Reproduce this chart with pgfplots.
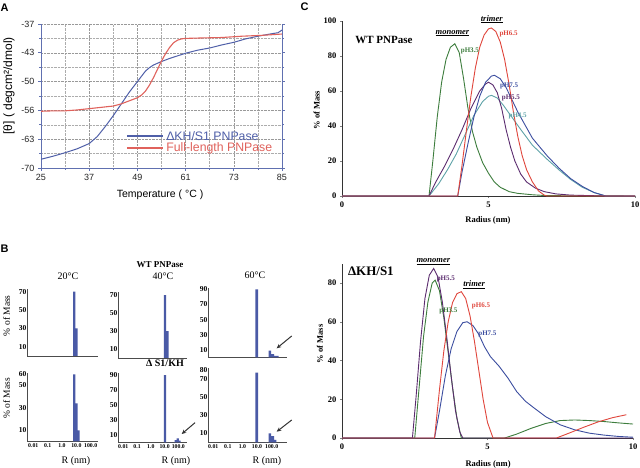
\documentclass[border=0pt]{standalone}
\usepackage{fontspec}
\setmainfont{Liberation Serif}
\newfontfamily\arial{Liberation Sans}
\usepackage{pgfplots}
\pgfplotsset{compat=1.18}
\usetikzlibrary{arrows.meta}
\definecolor{ablue}{HTML}{4F5FA8}
\definecolor{ared}{HTML}{E0625C}
\definecolor{aaxis}{HTML}{6070B0}
\definecolor{barblue}{HTML}{4A5AA6}
\definecolor{cgreen}{HTML}{3D7D3D}
\definecolor{cred}{HTML}{E0463C}
\definecolor{cblue}{HTML}{3C4EA0}
\definecolor{cpurple}{HTML}{5B2C6F}
\definecolor{cteal}{HTML}{5FA3A8}
\pgfplotsset{
  bpanel/.style={scale only axis, anchor=south west, clip=false,
    axis x line*=bottom, axis y line*=left,
    axis line style={-, gray!60!black, line width=0.6pt},
    ymin=0, major tick length=0pt,
    /pgf/number format/assume math mode=true,
    tick label style={font=\bfseries\fontsize{7.5}{8}\selectfont},
    yticklabel style={inner sep=0.8pt},
    xtick={-2,-1,0,1,2}, xticklabels={},
  },
  brow2/.style={xticklabels={0.01,0.1,1.0,10.0,100.0},
    xticklabel style={font=\bfseries\fontsize{5.8}{6}\selectfont, inner sep=1.5pt}},
  cpanel/.style={scale only axis, anchor=south west, clip=false,
    axis x line*=bottom, axis y line*=left,
    axis line style={-, black!80, line width=0.8pt},
    xmin=0, xmax=10, ymin=0,
    xtick={0,5,10}, major tick length=2pt, tick align=outside,
    /pgf/number format/assume math mode=true,
    tick label style={font=\bfseries\fontsize{8.5}{9}\selectfont},
    every axis plot/.append style={line width=0.9pt}},
}
\begin{document}
\begin{tikzpicture}
\useasboundingbox (0,0) rectangle (640pt,468pt);
\fill[white] (0,0) rectangle (640pt,468pt);

% ---------------- Panel A ----------------
\begin{axis}[
  scale only axis, width=241pt, height=144pt, at={(41pt,300pt)}, anchor=south west,
  xmin=25, xmax=85, ymin=-70, ymax=-37,
  axis x line*=bottom, axis y line*=box,
  axis line style={-, aaxis, line width=0.9pt},
  xtick={25,37,49,61,73,85}, xticklabels={25,37,49,61,73,85},
  ytick={-70,-63.4,-56.8,-50.2,-43.6,-37}, yticklabels={-70,-63,-56,-50,-43,-37},
  minor x tick num=1, minor y tick num=1,
  grid=both, major grid style={densely dotted, gray!80}, minor grid style={densely dotted, gray!65},
  tick align=outside, major tick length=3pt, minor tick length=2pt,
  tick style={aaxis, line width=0.6pt},
  tick label style={font=\arial\fontsize{9}{9}\selectfont, text=black!85},
  xlabel={Temperature ( °C )}, ylabel={[θ] ( degcm²/dmol)},
  xlabel style={font=\arial\fontsize{10.5}{11}\selectfont, at={(axis description cs:0.494,-0.183)}, anchor=center},
  ylabel style={font=\arial\fontsize{12}{12}\selectfont, at={(axis description cs:-0.133,0.57)}, anchor=center},
  legend style={at={(0.353,0.271)}, anchor=north west, draw=none, fill=none,
    font=\arial\fontsize{12.3}{12}\selectfont, row sep=-2.5pt, inner sep=0pt},
  legend cell align=left,
  legend image code/.code={\draw[#1, line width=2pt] (0pt,0pt) -- (36pt,0pt);},
]
\addplot[ablue, line width=1pt] coordinates {
(25,-68.0)(28,-67.3)(31,-66.5)(34,-65.6)(37,-64.4)(39,-62.8)(41,-60.5)(43,-58.0)
(45,-55.3)(47,-52.6)(49,-50.2)(50,-49.0)(51,-47.8)(52,-47.0)(53,-46.4)(55,-45.6)
(57,-44.9)(59,-44.3)(61,-43.7)(64,-43.0)(67,-42.5)(70,-41.8)(73,-41.2)(76,-40.4)
(79,-39.8)(82,-39.3)(84,-39.0)(85,-38.4)};
\addlegendentry{\textcolor{ablue}{ΔKH/S1 PNPase}}
\addplot[ared, line width=1.1pt] coordinates {
(25,-57.0)(28,-56.9)(31,-56.9)(34,-56.7)(37,-56.4)(40,-56.1)(43,-55.8)(45,-55.3)
(47,-54.6)(49,-53.9)(50,-53.3)(51,-52.4)(52,-51.0)(53,-49.3)(54,-47.4)(55,-45.5)
(56,-43.8)(57,-42.4)(58,-41.3)(59,-40.7)(60,-40.4)(61,-40.3)(65,-40.2)(70,-40.1)
(75,-39.8)(80,-39.6)(85,-39.3)};
\addlegendentry{\textcolor{ared}{Full-length PNPase}}
\end{axis}

% ---------------- Panel C top ----------------
\begin{axis}[cpanel, width=293pt, height=175pt, at={(342pt,272pt)}, ymax=100,
  ytick={0,20,40,60,80,100},
  xlabel={Radius (nm)}, ylabel={\% of Mass},
  label style={font=\bfseries\fontsize{8.5}{9}\selectfont},
  xlabel style={at={(axis description cs:0.498,-0.137)}, anchor=center},
  ylabel style={at={(axis description cs:-0.086,0.491)}, anchor=center},
]
\addplot[cgreen] coordinates {(0,0)(2.97,0)(3.1,20)(3.25,45)(3.4,65)(3.55,78)(3.7,85)(3.85,87)
(4.0,82)(4.15,67)(4.3,50)(4.45,37)(4.6,28)(4.8,19)(5.0,13)(5.2,8)(5.4,5)(5.7,2.5)(6.0,1.5)
(6.5,0.7)(7,0.2)(10,0)};
\addplot[cteal] coordinates {(0,0)(2.97,0)(3.3,7)(3.6,15)(3.9,24)(4.2,35)(4.5,46)(4.8,54)
(5.0,57)(5.1,57.5)(5.3,56)(5.5,52)(5.8,45)(6.1,38)(6.5,29)(7.0,21)(7.4,15)(7.8,9.5)
(8.2,5)(8.6,2)(9.0,0)(10,0)};
\addplot[cpurple] coordinates {(0,0)(2.97,0)(3.2,8)(3.5,17)(3.8,27)(4.1,38)(4.4,50)(4.7,60)
(4.9,64)(5.0,65)(5.15,63.5)(5.3,59)(5.45,50)(5.6,38)(5.75,28)(5.9,20)(6.1,12.5)(6.3,8)
(6.6,4.5)(6.9,2.5)(7.3,1.2)(7.8,0.5)(9.0,0)(10,0)};
\addplot[cblue] coordinates {(0,0)(3.95,0)(4.1,14)(4.3,30)(4.5,45)(4.7,57)(4.9,65)(5.1,68.5)
(5.2,69)(5.4,67)(5.6,62)(5.8,55)(6.0,48)(6.5,33)(7.0,23)(7.4,16)(7.8,10)(8.2,5.5)(8.6,2)
(9.0,0)(10,0)};
\addplot[cred] coordinates {(0,0)(3.95,0)(4.1,18)(4.25,38)(4.4,57)(4.55,73)(4.7,85)(4.85,92)
(5.0,95.5)(5.1,96)(5.25,94)(5.4,88)(5.55,78)(5.7,64)(5.85,48)(6.0,34)(6.15,23)(6.3,15)
(6.5,8)(6.7,3)(6.9,0.5)(7.0,0)(10,0)};
\node[font=\bfseries\fontsize{11}{12}\selectfont] at (axis cs:1.43,89) {WT PNPase};
\node[font=\bfseries\itshape\fontsize{8.5}{9}\selectfont] at (axis cs:3.77,93) {\underline{monomer}};
\node[font=\bfseries\itshape\fontsize{8.5}{9}\selectfont] at (axis cs:5.11,101) {\underline{trimer}};
\node[anchor=west, inner sep=0pt, text=cgreen, font=\bfseries\fontsize{7}{8}\selectfont] at (axis cs:4.05,83) {pH3.5};
\node[anchor=west, inner sep=0pt, text=cred, font=\bfseries\fontsize{7}{8}\selectfont] at (axis cs:5.37,92.6) {pH6.5};
\node[anchor=west, inner sep=0pt, text=cblue, font=\bfseries\fontsize{7}{8}\selectfont] at (axis cs:5.39,63) {pH7.5};
\node[anchor=west, inner sep=0pt, text=cpurple, font=\bfseries\fontsize{7}{8}\selectfont] at (axis cs:5.45,55.8) {pH5.5};
\node[anchor=west, inner sep=0pt, text=cteal, font=\bfseries\fontsize{7}{8}\selectfont] at (axis cs:5.68,45.9) {pH4.5};
\end{axis}

% ---------------- Panel C bottom ----------------
\begin{axis}[cpanel, width=291pt, height=174.4pt, at={(342pt,30pt)}, ymax=90,
  ytick={0,20,40,60,80},
  xlabel={Radius (nm)}, ylabel={\% of Mass},
  label style={font=\bfseries\fontsize{8.5}{9}\selectfont},
  xlabel style={at={(axis description cs:0.502,-0.15)}, anchor=center},
  ylabel style={at={(axis description cs:-0.076,0.539)}, anchor=center},
]
\addplot[cgreen] coordinates {(0,0)(2.5,0)(2.65,26)(2.8,52)(2.95,70)(3.1,80)(3.2,81.5)(3.35,76)
(3.5,62)(3.65,44)(3.8,26)(3.95,10)(4.1,0)(5.59,0)(6.0,2)(6.5,5)(7.0,7.5)(7.5,9)(8.0,9.3)
(8.5,9)(9.0,8.5)(9.5,7.8)(10,7.2)};
\addplot[cpurple] coordinates {(0,0)(2.42,0)(2.55,22)(2.7,50)(2.85,72)(3.0,84)(3.15,87.5)(3.3,83)
(3.45,70)(3.6,52)(3.75,32)(3.9,14)(4.05,3)(4.15,0)(10,0)};
\addplot[cblue] coordinates {(0,0)(3.18,0)(3.35,14)(3.55,32)(3.75,46)(3.95,55)(4.15,59.5)(4.3,60)
(4.5,58)(4.7,53.5)(4.9,47)(5.1,42)(5.4,37)(5.7,31)(6.0,24)(6.3,19)(6.6,15.5)(7.0,11)
(7.5,6.8)(8.0,4.2)(8.5,2.5)(9.0,1.5)(9.5,0.8)(10,0.4)};
\addplot[cred] coordinates {(0,0)(3.18,0)(3.35,25)(3.5,45)(3.65,60)(3.8,70)(3.95,74.5)(4.1,75.5)
(4.25,72)(4.4,63)(4.55,50)(4.7,35)(4.85,20)(5.0,8)(5.19,0)(7.37,0)(7.8,2.5)(8.3,5.5)
(8.8,8.3)(9.3,10.5)(9.77,12)};
\node[font=\bfseries\fontsize{13}{14}\selectfont, anchor=west, inner sep=0pt] at (axis cs:0.2,86) {ΔKH/S1};
\node[font=\bfseries\itshape\fontsize{8.5}{9}\selectfont] at (axis cs:3.14,91) {\underline{monomer}};
\node[font=\bfseries\itshape\fontsize{8.5}{9}\selectfont] at (axis cs:4.54,79) {\underline{trimer}};
\node[anchor=west, inner sep=0pt, text=cpurple, font=\bfseries\fontsize{7}{8}\selectfont] at (axis cs:3.25,81.9) {pH5.5};
\node[anchor=west, inner sep=0pt, text=cgreen, font=\bfseries\fontsize{7}{8}\selectfont] at (axis cs:3.34,65.7) {pH3.5};
\node[anchor=west, inner sep=0pt, text=cred, font=\bfseries\fontsize{7}{8}\selectfont] at (axis cs:4.46,68.1) {pH6.5};
\node[anchor=west, inner sep=0pt, text=cblue, font=\bfseries\fontsize{7}{8}\selectfont] at (axis cs:4.68,53.7) {pH7.5};
\end{axis}

% ---------------- Panel B ----------------
% row 1
\begin{axis}[bpanel, at={(27.3pt,112pt)}, width=70.7pt, height=67pt,
  xmin=-2.42, xmax=2.51, ymax=72.9, ytick={10,30,50,70}]
\addplot[ybar interval, fill=barblue, draw=none] coordinates {(0.77,70)(0.93,30)(1.09,0)};
\end{axis}
\begin{axis}[bpanel, at={(118.3pt,110pt)}, width=69pt, height=66.3pt,
  xmin=-2.36, xmax=2.65, ymax=73.7, ytick={10,30,50,70}]
\addplot[ybar interval, fill=barblue, draw=none] coordinates {(0.95,70)(1.12,30)(1.29,0)};
\end{axis}
\begin{axis}[bpanel, at={(208.3pt,110.5pt)}, width=78.4pt, height=69.2pt,
  xmin=-2.34, xmax=3.03, ymax=91.3, ytick={10,30,50,70,90}]
\addplot[ybar interval, fill=barblue, draw=none] coordinates {(0.88,90)(1.07,0)(1.79,9)(1.97,4.5)(2.16,2)(2.47,0)};
\end{axis}
% row 2
\begin{axis}[bpanel, brow2, at={(27.3pt,26.5pt)}, width=70.7pt, height=68.8pt,
  xmin=-2.42, xmax=2.51, ymax=61.4, ytick={10,30,50,60}]
\addplot[ybar interval, fill=barblue, draw=none] coordinates {(0.77,60)(0.93,34)(1.09,10)(1.23,0)};
\end{axis}
\begin{axis}[bpanel, brow2, at={(118.3pt,25.5pt)}, width=69pt, height=69.2pt,
  xmin=-2.36, xmax=2.65, ymax=92.3, ytick={10,30,50,70,90}]
\addplot[ybar interval, fill=barblue, draw=none] coordinates {(0.95,90)(1.12,0)(1.73,3)(1.87,5.6)(2.03,2.5)(2.17,0)};
\end{axis}
\begin{axis}[bpanel, brow2, at={(208.3pt,25.5pt)}, width=78.4pt, height=74.2pt,
  xmin=-2.34, xmax=3.03, ymax=81.9, ytick={10,30,50,70,80}]
\addplot[ybar interval, fill=barblue, draw=none] coordinates {(0.88,77)(1.07,0)(1.79,10)(1.97,7)(2.16,3)(2.33,0)};
\end{axis}

% arrows in B
\draw[-{Stealth[length=4.5pt,width=4pt]}, line width=1pt, black!80] (291.7pt,132pt) -- (276.7pt,119.7pt);
\draw[-{Stealth[length=4.5pt,width=4pt]}, line width=1pt, black!80] (291.7pt,48pt) -- (276.7pt,36.3pt);
\draw[-{Stealth[length=4.5pt,width=4pt]}, line width=1pt, black!80] (195pt,45.3pt) -- (181.7pt,34pt);

% B texts
\node[font=\fontsize{10}{11}\selectfont] at (68pt,191.3pt) {20°C};
\node[font=\bfseries\fontsize{9}{10}\selectfont] at (160pt,203pt) {WT PNPase};
\node[font=\fontsize{10}{11}\selectfont] at (163pt,192pt) {40°C};
\node[font=\fontsize{10}{11}\selectfont] at (255pt,192.3pt) {60°C};
\node[font=\bfseries\fontsize{10}{11}\selectfont] at (165pt,104.7pt) {Δ S1/KH};
\node[font=\fontsize{9.5}{10}\selectfont, rotate=90] at (6.5pt,152.3pt) {\% of Mass};
\node[font=\fontsize{9.5}{10}\selectfont, rotate=90] at (6.5pt,69.7pt) {\% of Mass};
\node[font=\fontsize{10}{11}\selectfont] at (76pt,7pt) {R (nm)};
\node[font=\fontsize{10}{11}\selectfont] at (176pt,7pt) {R (nm)};
\node[font=\fontsize{10}{11}\selectfont] at (267pt,7pt) {R (nm)};

% panel letters
\node[font=\arial\bfseries\fontsize{11}{12}\selectfont] at (4.5pt,460.5pt) {A};
\node[font=\arial\bfseries\fontsize{11}{12}\selectfont] at (4.5pt,219.7pt) {B};
\node[font=\arial\bfseries\fontsize{11}{12}\selectfont] at (304.5pt,461.7pt) {C};
\end{tikzpicture}
\end{document}
